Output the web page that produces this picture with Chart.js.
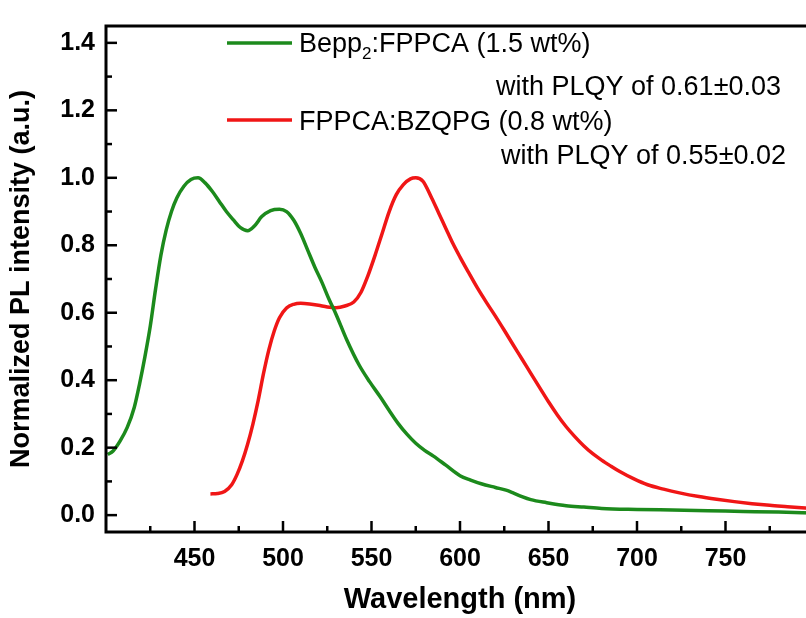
<!DOCTYPE html>
<html>
<head>
<meta charset="utf-8">
<script src="https://cdn.jsdelivr.net/npm/chart.js@4"></script>
<style>
  html, body { margin: 0; padding: 0; background: #fff; overflow: hidden; }
  #wrap { width: 820px; height: 618px; }
</style>
</head>
<body>
<div id="wrap"><canvas id="pl" width="820" height="618"></canvas></div>
<script>
// ── data ────────────────────────────────────────────────────────────────────
const GREEN_X = [401, 404, 408, 412, 416, 419, 422, 425, 428, 431, 434, 437, 440, 444, 448, 452,
    456, 460, 464, 468, 472, 476, 480, 484, 488, 493, 498, 502, 506, 510, 514, 518, 522, 526, 530,
    536, 543, 549, 555, 560, 565, 570, 575, 580, 585, 592, 600, 606, 612, 620, 626, 630, 635,
    640, 649, 660, 670, 680, 700, 720, 740, 760, 780, 800];
const GREEN_Y = [0.18, 0.19, 0.22, 0.26, 0.32, 0.39, 0.47, 0.56, 0.67, 0.77, 0.845, 0.90, 0.94, 0.975, 0.995, 1.00,
    0.985, 0.96, 0.93, 0.90, 0.875, 0.852, 0.843, 0.858, 0.885, 0.903, 0.907, 0.90, 0.875, 0.835, 0.785, 0.735, 0.69, 0.64, 0.595,
    0.52, 0.445, 0.395, 0.35, 0.31, 0.272, 0.24, 0.213, 0.192, 0.175, 0.148, 0.117, 0.104, 0.093, 0.082, 0.074, 0.066, 0.055,
    0.046, 0.037, 0.028, 0.024, 0.020, 0.017, 0.015, 0.013, 0.011, 0.009, 0.006];

const RED_X = [459, 463, 467, 471, 474, 477, 480, 483, 486, 489, 492, 495, 498, 502, 506, 510,
    515, 520, 525, 530, 535, 540, 544, 548, 552, 556, 560, 564, 568, 572, 575, 579, 584, 588,
    592, 596, 600, 605, 610, 615, 620, 625, 630, 635, 640, 645, 650, 655, 660, 665, 670, 675,
    680, 685, 690, 698, 706, 715, 724, 735, 745, 755, 765, 775, 785, 795, 800];
const RED_Y = [0.063, 0.064, 0.07, 0.09, 0.12, 0.16, 0.21, 0.27, 0.34, 0.42, 0.49, 0.545, 0.585, 0.614, 0.625, 0.628,
    0.626, 0.622, 0.617, 0.615, 0.62, 0.632, 0.66, 0.71, 0.77, 0.835, 0.90, 0.95, 0.98, 0.997, 1.0, 0.99, 0.94, 0.895,
    0.85, 0.805, 0.765, 0.718, 0.672, 0.63, 0.59, 0.548, 0.505, 0.463, 0.42, 0.378, 0.336, 0.297, 0.262, 0.232, 0.205, 0.182,
    0.163, 0.146, 0.13, 0.108, 0.09, 0.077, 0.066, 0.055, 0.047, 0.040, 0.034, 0.029, 0.025, 0.021, 0.019];

const X_TICKS = [450, 500, 550, 600, 650, 700, 750];
const X_MINOR = [425, 475, 525, 575, 625, 675, 725, 775];
const Y_TICKS = [0, 0.2, 0.4, 0.6, 0.8, 1.0, 1.2, 1.4];
const Y_MINOR = [0.1, 0.3, 0.5, 0.7, 0.9, 1.1, 1.3];

const GREEN = "#1c8a1c";
const RED = "#f01616";
const FONT = "'Liberation Sans', Arial, sans-serif";

// ── frame + inward ticks ─────────────────────────────────────────────────────
const framePlugin = {
    id: "frame",
    afterDraw(chart) {
        const { ctx, chartArea: a, scales } = chart;
        ctx.save();
        ctx.strokeStyle = "#000";
        ctx.lineWidth = 2.5;
        const tick = (vals, len, isX) => {
            vals.forEach(v => {
                ctx.beginPath();
                if (isX) {
                    const px = scales.x.getPixelForValue(v);
                    ctx.moveTo(px, a.bottom);
                    ctx.lineTo(px, a.bottom - len);
                } else {
                    const py = scales.y.getPixelForValue(v);
                    ctx.moveTo(a.left, py);
                    ctx.lineTo(a.left + len, py);
                }
                ctx.stroke();
            });
        };
        tick(X_TICKS, 11, true);
        tick(X_MINOR, 6, true);
        tick(Y_TICKS, 11, false);
        tick(Y_MINOR, 6, false);
        ctx.lineWidth = 3;
        ctx.strokeRect(a.left, a.top, a.right - a.left, a.bottom - a.top);
        ctx.restore();
    },
};

// ── in-plot legend with subscript ────────────────────────────────────────────
const legendPlugin = {
    id: "plLegend",
    afterDraw(chart) {
        const ctx = chart.ctx;
        ctx.save();
        ctx.lineWidth = 3.5;
        ctx.strokeStyle = GREEN;
        ctx.beginPath(); ctx.moveTo(227, 43); ctx.lineTo(292, 43); ctx.stroke();
        ctx.strokeStyle = RED;
        ctx.beginPath(); ctx.moveTo(227, 120); ctx.lineTo(292, 120); ctx.stroke();

        ctx.fillStyle = "#000";
        ctx.textBaseline = "alphabetic";
        ctx.textAlign = "left";
        ctx.font = "27px " + FONT;
        let x = 299;
        ctx.fillText("Bepp", x, 52);
        x += ctx.measureText("Bepp").width;
        ctx.font = "17px " + FONT;
        ctx.fillText("2", x, 59);
        x += ctx.measureText("2").width;
        ctx.font = "27px " + FONT;
        ctx.fillText(":FPPCA (1.5 wt%)", x, 52);
        ctx.fillText("FPPCA:BZQPG (0.8 wt%)", 299, 130);

        ctx.textAlign = "right";
        ctx.fillText("with PLQY of 0.61\u00b10.03", 781, 95);
        ctx.fillText("with PLQY of 0.55\u00b10.02", 786, 164);
        ctx.restore();
    },
};

const toPoints = (xs, ys) => xs.map((x, i) => ({ x, y: ys[i] }));

new Chart(document.getElementById("pl"), {
    type: "line",
    data: {
        datasets: [
            {
                label: "Bepp2:FPPCA (1.5 wt%)",
                data: toPoints(GREEN_X, GREEN_Y),
                borderColor: GREEN,
                borderWidth: 3.5,
                pointRadius: 0,
                cubicInterpolationMode: "monotone",
                fill: false,
            },
            {
                label: "FPPCA:BZQPG (0.8 wt%)",
                data: toPoints(RED_X, RED_Y),
                borderColor: RED,
                borderWidth: 3.5,
                pointRadius: 0,
                cubicInterpolationMode: "monotone",
                fill: false,
            },
        ],
    },
    options: {
        responsive: false,
        animation: false,
        devicePixelRatio: 1,
        layout: { padding: { top: 14, right: 6, left: 0, bottom: 0 } },
        plugins: { legend: { display: false }, tooltip: { enabled: false } },
        scales: {
            x: {
                type: "linear",
                min: 400,
                max: 800,
                afterBuildTicks: s => { s.ticks = X_TICKS.map(v => ({ value: v })); },
                afterFit: s => { s.height = 86; },
                grid: { display: false, drawTicks: false },
                border: { display: false },
                ticks: {
                    color: "#000",
                    padding: 12,
                    maxRotation: 0,
                    font: { family: FONT, size: 25, weight: "bold" },
                },
                title: {
                    display: true,
                    text: "Wavelength (nm)",
                    color: "#000",
                    padding: { top: 0, bottom: 4 },
                    font: { family: FONT, size: 29, weight: "bold", lineHeight: 1 },
                },
            },
            y: {
                min: -0.05,
                max: 1.45,
                afterBuildTicks: s => { s.ticks = Y_TICKS.map(v => ({ value: v })); },
                afterFit: s => { s.width = 106; },
                grid: { display: false, drawTicks: false },
                border: { display: false },
                ticks: {
                    color: "#000",
                    padding: 11,
                    callback: v => Number(v).toFixed(1),
                    font: { family: FONT, size: 25, weight: "bold" },
                },
                title: {
                    display: true,
                    text: "Normalized PL intensity (a.u.)",
                    color: "#000",
                    padding: { top: 8, bottom: 0 },
                    font: { family: FONT, size: 27, weight: "bold", lineHeight: 1 },
                },
            },
        },
    },
    plugins: [framePlugin, legendPlugin],
});
</script>
</body>
</html>
